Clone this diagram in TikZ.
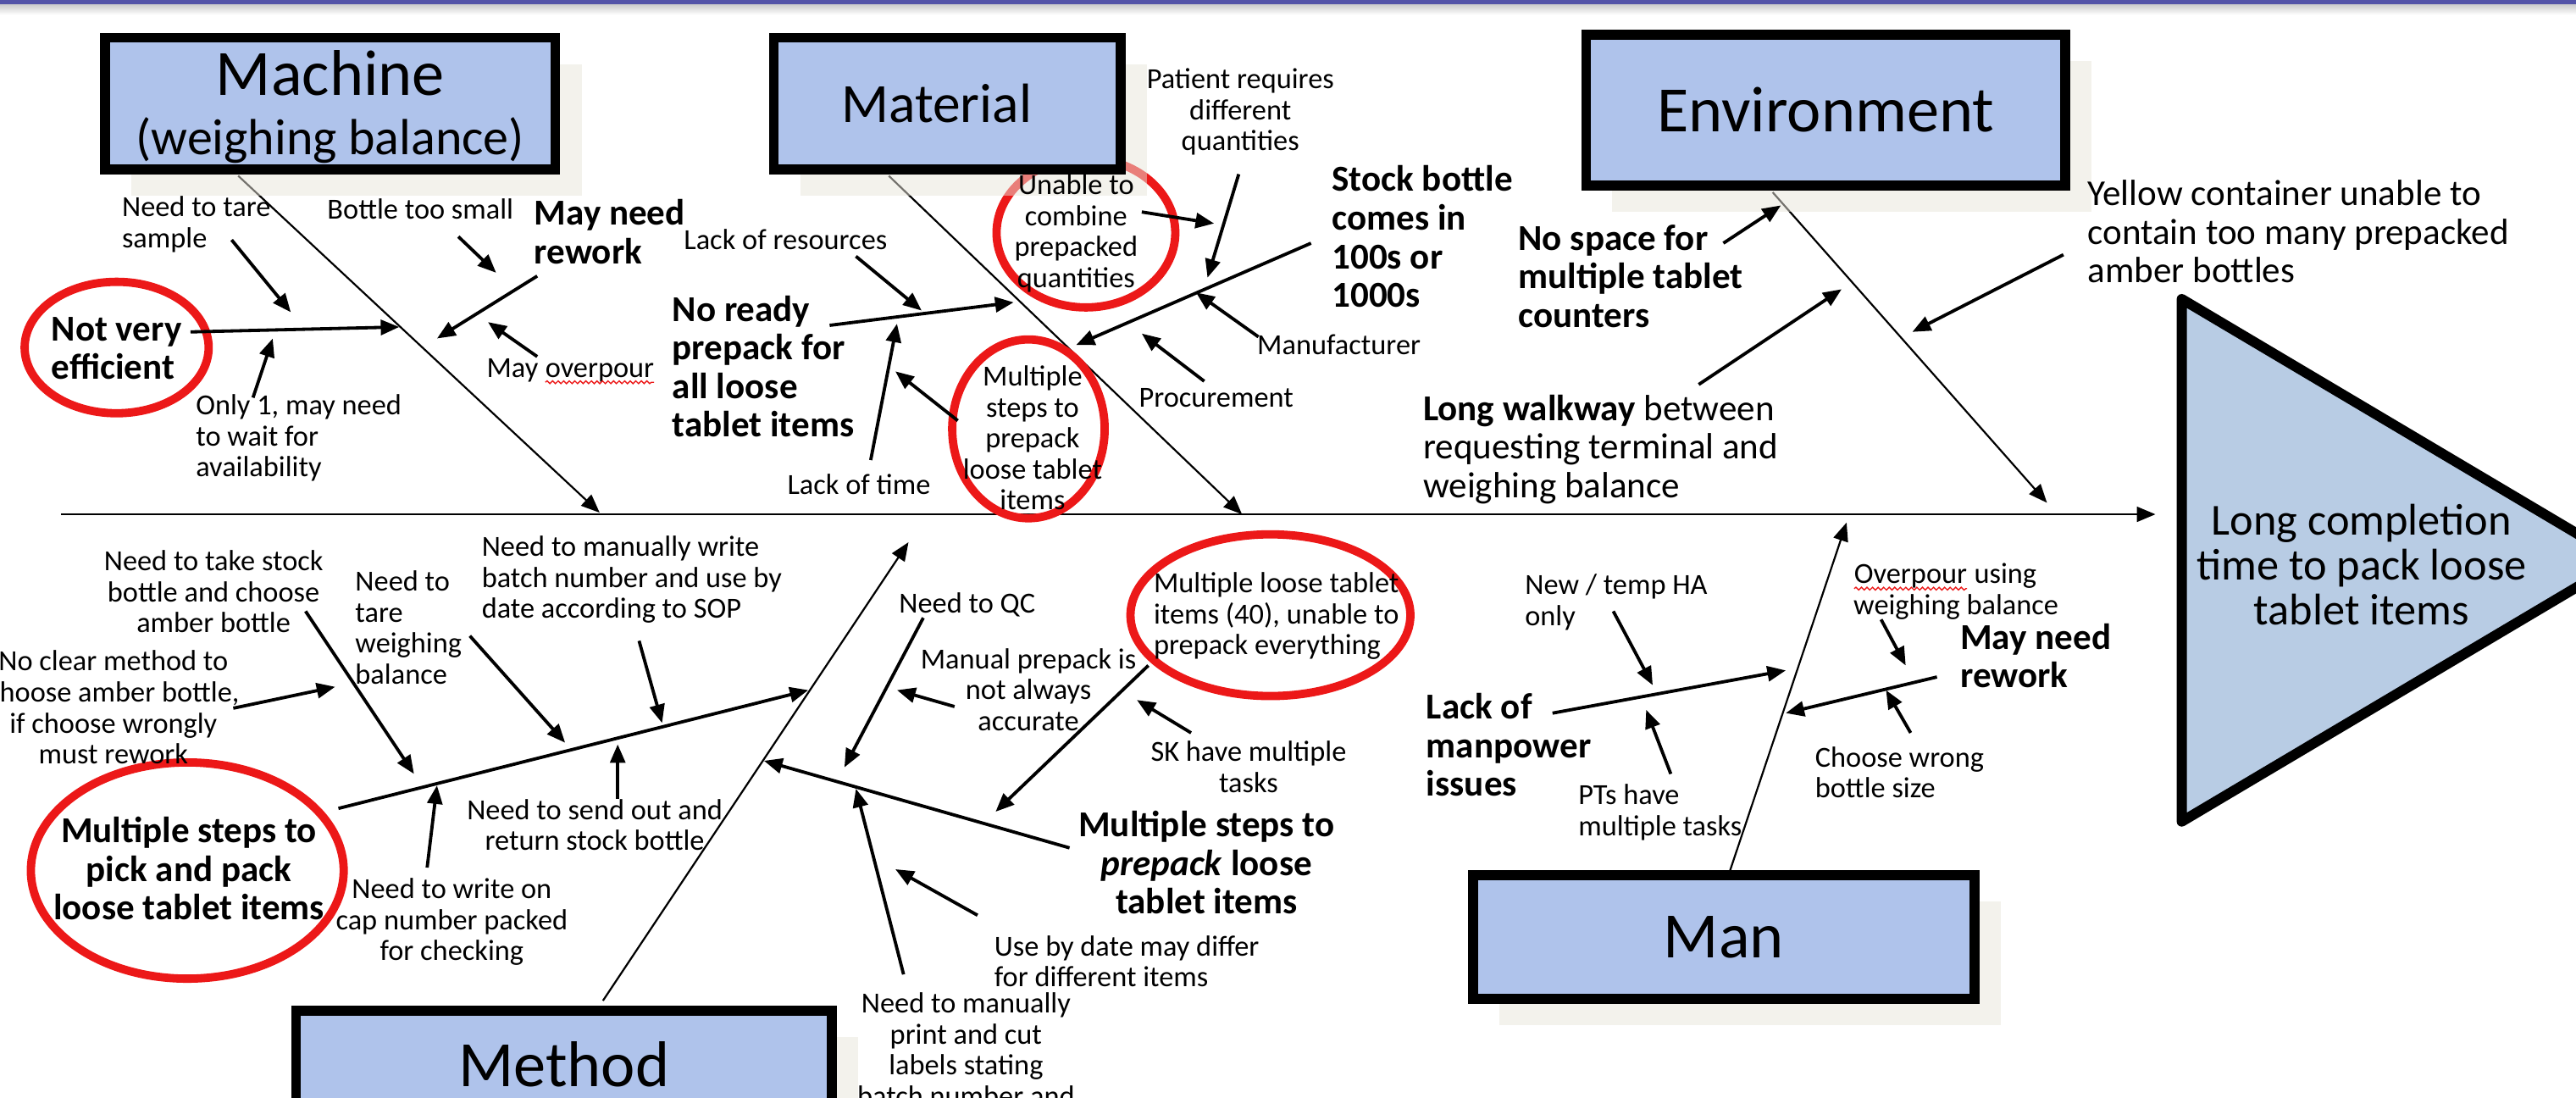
\documentclass[tikz,border=0pt]{standalone}
\usepackage{fontspec}
\setmainfont{Carlito}
\usetikzlibrary{arrows.meta,shadows,decorations.pathmorphing}

\definecolor{boxblue}{RGB}{175,195,235}
\definecolor{effectblue}{RGB}{184,204,228}
\definecolor{ringred}{RGB}{236,24,24}
\definecolor{shadowgray}{RGB}{232,229,218}
\definecolor{barblue}{RGB}{84,84,168}

% spell-check squiggle under a word
\newcommand{\squig}[1]{\tikz[baseline=(sq.base)]{\node[inner sep=0pt,outer sep=0pt] (sq) {#1};
  \draw[ringred, line width=0.5pt, decorate, decoration={snake,amplitude=0.6pt,segment length=2.4pt}]
    ([yshift=-2.2pt]sq.base west) -- ([yshift=-2.2pt]sq.base east);}}

\begin{document}
\begin{tikzpicture}[
            x=0.25mm, y=-0.25mm,
            catbox/.style={draw, line width=4.3pt, fill=boxblue, align=center, inner sep=0pt,
                drop shadow={shadow xshift=4mm, shadow yshift=-4mm, fill=shadowgray, opacity=0.5}},
            cause/.style={font=\fontsize{12.6}{13.4}\selectfont, inner sep=0pt, align=left},
            causec/.style={cause, align=center},
            boldcause/.style={font=\fontsize{15.8}{16.7}\selectfont\bfseries, inner sep=0pt, align=left},
            boldcausec/.style={boldcause, align=center},
            bigcause/.style={font=\fontsize{15.8}{16.7}\selectfont, inner sep=0pt, align=left},
            arr/.style={-{Triangle[length=8pt,width=6.5pt]}, line width=1.4pt},
            bone/.style={-{Triangle[length=8pt,width=6.5pt]}, line width=0.8pt},
            redring/.style={draw=ringred, line width=3.6pt}
        ]

        \useasboundingbox (0,0) rectangle (1568,668);
        \clip (0,0) rectangle (1568,668);

        % Slide bar
        \shade[top color=gray!45, bottom color=white] (0,2) rectangle (1568,9);
        \fill[barblue] (0,0) rectangle (1568,2.5);

        % Spine and main bones
        \path (37,313) coordinate (sp-l) (1312,313) coordinate (sp-r)
              (145,107) coordinate (mc-s) (365,312) coordinate (mc-t)
              (541,107) coordinate (mt-s) (756,313) coordinate (mt-t)
              (1079,117) coordinate (en-s) (1246,306) coordinate (en-t)
              (367,609) coordinate (me-s) (553,330) coordinate (me-t)
              (1053,530) coordinate (mn-s) (1124,318) coordinate (mn-t);
        \draw[bone] (sp-l) -- (sp-r);
        \draw[bone] (mc-s) -- (mc-t);
        \draw[bone] (mt-s) -- (mt-t);
        \draw[bone] (en-s) -- (en-t);
        \draw[bone] (me-s) -- (me-t);
        \draw[bone] (mn-s) -- (mn-t);

        % Highlight rings
        \draw[redring] (71,211.5) ellipse [x radius=14mm, y radius=10mm];
        \draw[redring] (661,141.7) ellipse [x radius=13.6mm, y radius=11.35mm];
        \draw[redring] (626,261) ellipse [x radius=11.6mm, y radius=13.6mm];
        \draw[redring] (114,529.8) ellipse [x radius=23.8mm, y radius=16.45mm];
        \draw[redring] (773.3,374.4) ellipse [x radius=21.3mm, y radius=12.3mm];

        % Category boxes
        \node[catbox, minimum width=68.5mm, minimum height=20mm, font=\fontsize{28}{25.7}\selectfont]
            (machine) at (201,63) {\raisebox{-1.2mm}[\height][\depth]{\begin{tabular}{@{}c@{}}Machine\\
            {\fontsize{22}{24}\selectfont (weighing balance)}\end{tabular}}};
        \node[catbox, minimum width=52.75mm, minimum height=20mm, font=\fontsize{24}{26}\selectfont]
            (material) at (576.5,63) {Material\hspace*{3.2mm}};
        \node[catbox, minimum width=72.9mm, minimum height=23mm, font=\fontsize{28}{30}\selectfont]
            (environment) at (1111.25,67) {Environment};
        \node[catbox, minimum width=76.3mm, minimum height=18.8mm, font=\fontsize{28}{30}\selectfont]
            (man) at (1049.2,570.4) {Man};
        \node[catbox, minimum width=81.5mm, minimum height=16.4mm, font=\fontsize{28}{30}\selectfont]
            (method) at (343.25,648) {Method};

        % Machine causes
        \node[boldcause, anchor=west] (t-eff) at (31,212) {Not very\\efficient};
        \node[cause, anchor=west] (t-tare) at (74,136.5) {Need to tare\\sample};
        \node[cause, anchor=west] (t-only) at (119,266.5) {Only 1, may need\\to wait for\\availability};
        \node[cause, anchor=west] (t-bottle) at (199,127) {Bottle too small};
        \node[boldcause, anchor=west] (t-rework1) at (325,141) {May need\\rework};
        \node[cause, anchor=west] (t-overpour) at (296,226) {May \squig{overpour}};
        \path (116,202) coordinate (ne-s) (243,199) coordinate (ne-t)
              (141,146) coordinate (tr-s) (177,190) coordinate (tr-t)
              (154,242) coordinate (on-s) (166,206) coordinate (on-t)
              (279,144) coordinate (bt-s) (302,166) coordinate (bt-t)
              (327,168) coordinate (rw-s) (266,206) coordinate (rw-t)
              (327,217) coordinate (op-s) (297,196) coordinate (op-t);
        \draw[arr] (ne-s) -- (ne-t);
        \draw[arr] (tr-s) -- (tr-t);
        \draw[arr] (on-s) -- (on-t);
        \draw[arr] (bt-s) -- (bt-t);
        \draw[arr] (rw-s) -- (rw-t);
        \draw[arr] (op-s) -- (op-t);

        % Material causes
        \node[cause, anchor=west] (t-res) at (416,146) {Lack of resources};
        \node[boldcause, anchor=west] (t-noready) at (409,223) {No ready\\prepack for\\all loose\\tablet items};
        \node[cause, anchor=west] (t-time) at (479,295) {Lack of time};
        \node[causec] (t-steps) at (628.5,266.5) {Multiple\\steps to\\prepack\\loose tablet\\items};
        \node[causec] (t-unable) at (655,142) {Unable to\\combine\\prepacked\\quantities};
        \node[causec] (t-patient) at (755,68) {Patient requires\\different\\quantities};
        \node[boldcause, anchor=west] (t-stock) at (810.5,144) {Stock bottle\\comes in\\100s or\\1000s};
        \node[cause, anchor=west] (t-manuf) at (765,210) {Manufacturer};
        \node[cause, anchor=west] (t-proc) at (693,242) {Procurement};
        \path (505,198) coordinate (nr-s) (617,184) coordinate (nr-t)
              (521,156) coordinate (rs-s) (561,189) coordinate (rs-t)
              (530,280) coordinate (tm-s) (546,197) coordinate (tm-t)
              (583,256) coordinate (st-s) (545,226) coordinate (st-t)
              (798,148) coordinate (sb-s) (655,210) coordinate (sb-t)
              (695,129) coordinate (un-s) (739,136) coordinate (un-t)
              (754,106) coordinate (pr-s) (735,169) coordinate (pr-t)
              (766,205) coordinate (mf-s) (728,178) coordinate (mf-t)
              (733,232) coordinate (pc-s) (695,203) coordinate (pc-t);
        \draw[arr] (nr-s) -- (nr-t);
        \draw[arr] (rs-s) -- (rs-t);
        \draw[arr] (tm-s) -- (tm-t);
        \draw[arr] (st-s) -- (st-t);
        \draw[arr] (sb-s) -- (sb-t);
        \draw[arr] (un-s) -- (un-t);
        \draw[arr] (pr-s) -- (pr-t);
        \draw[arr] (mf-s) -- (mf-t);
        \draw[arr] (pc-s) -- (pc-t);

        % Environment causes
        \node[boldcause, anchor=west] (t-nospace) at (924,168) {No space for\\multiple tablet\\counters};
        \node[bigcause, anchor=west] (t-walk) at (866,273.4) {\textbf{Long walkway} between\\requesting terminal and\\weighing balance};
        \node[bigcause, anchor=west] (t-yellow) at (1270.5,141) {Yellow container unable to\\contain too many prepacked\\amber bottles};
        \path (1049,148) coordinate (ns-s) (1084,125) coordinate (ns-t)
              (1034,234) coordinate (wk-s) (1121,176) coordinate (wk-t)
              (1256,155) coordinate (yc-s) (1164,202) coordinate (yc-t);
        \draw[arr] (ns-s) -- (ns-t);
        \draw[arr] (wk-s) -- (wk-t);
        \draw[arr] (yc-s) -- (yc-t);

        % Method causes (pick and pack)
        \node[boldcausec] (t-pick) at (115,528.6) {Multiple steps to\\pick and pack\\loose tablet items};
        \node[causec] (t-take) at (130,360) {Need to take stock\\bottle and choose\\amber bottle};
        \node[causec] (t-noclear) at (69,430.5) {No clear method to\\choose amber bottle,\\if choose wrongly\\must rework};
        \node[cause, anchor=west] (t-tarew) at (216,382) {Need to\\tare\\weighing\\balance};
        \node[cause, anchor=west] (t-write) at (293,352.7) {Need to manually write\\batch number and use by\\date according to SOP};
        \node[causec] (t-send) at (362,502) {Need to send out and\\return stock bottle};
        \node[causec] (t-cap) at (275,561) {Need to write on\\cap number packed\\for checking};
        \path (206,492) coordinate (pk-s) (492,420) coordinate (pk-t)
              (186,372) coordinate (tk-s) (252,471) coordinate (tk-t)
              (142,431) coordinate (nc-s) (204,418) coordinate (nc-t)
              (286,387) coordinate (tw-s) (344,452) coordinate (tw-t)
              (389,390) coordinate (wr-s) (403,440) coordinate (wr-t)
              (376,486) coordinate (sd-s) (376,453) coordinate (sd-t)
              (260,528) coordinate (cp-s) (266,478) coordinate (cp-t);
        \draw[arr] (pk-s) -- (pk-t);
        \draw[arr] (tk-s) -- (tk-t);
        \draw[arr] (nc-s) -- (nc-t);
        \draw[arr] (tw-s) -- (tw-t);
        \draw[arr] (wr-s) -- (wr-t);
        \draw[arr] (sd-s) -- (sd-t);
        \draw[arr] (cp-s) -- (cp-t);

        % Method causes (prepack)
        \node[boldcausec] (t-prep) at (734.4,525) {Multiple steps to\\\textit{prepack} loose\\tablet items};
        \node[cause, anchor=west] (t-qc) at (547,368) {Need to QC};
        \node[causec] (t-manual) at (626,419.6) {Manual prepack is\\not always\\accurate};
        \node[cause, anchor=west] (t-loose) at (702,375) {Multiple loose tablet\\items (40), unable to\\prepack everything};
        \node[causec] (t-sk) at (760,466.7) {SK have multiple\\tasks};
        \node[cause, anchor=west] (t-useby) at (605,585) {Use by date may differ\\for different items};
        \node[causec] (t-print) at (588,638.7) {Need to manually\\print and cut\\labels stating\\batch number and};
        \path (651,516) coordinate (pp-s) (465,463) coordinate (pp-t)
              (562,376) coordinate (qc-s) (514,467) coordinate (qc-t)
              (581,430) coordinate (ma-s) (546,420) coordinate (ma-t)
              (699,405) coordinate (lo-s) (606,494) coordinate (lo-t)
              (725,446) coordinate (sk-s) (692,426) coordinate (sk-t)
              (595,557) coordinate (ub-s) (545,529) coordinate (ub-t)
              (550,593) coordinate (pt-s) (521,480) coordinate (pt-t);
        \draw[arr] (pp-s) -- (pp-t);
        \draw[arr] (qc-s) -- (qc-t);
        \draw[arr] (ma-s) -- (ma-t);
        \draw[arr] (lo-s) -- (lo-t);
        \draw[arr] (sk-s) -- (sk-t);
        \draw[arr] (ub-s) -- (ub-t);
        \draw[arr] (pt-s) -- (pt-t);

        % Man causes
        \node[cause, anchor=west] (t-newha) at (928,366.5) {New / temp HA\\only};
        \node[boldcause, anchor=west] (t-lack) at (868,453.3) {Lack of\\manpower\\issues};
        \node[cause, anchor=west] (t-pts) at (960.5,494.5) {PTs have\\multiple tasks};
        \node[cause, anchor=west] (t-overp) at (1128,360) {\squig{Overpour} using\\weighing balance};
        \node[boldcause, anchor=west] (t-rework2) at (1193,399) {May need\\rework};
        \node[cause, anchor=west] (t-choose) at (1104.6,470) {Choose wrong\\bottle size};
        \path (945,434) coordinate (lk-s) (1087,408) coordinate (lk-t)
              (982,372) coordinate (nh-s) (1006,417) coordinate (nh-t)
              (1017,471) coordinate (ps-s) (1002,432) coordinate (ps-t)
              (1179,412) coordinate (rk-s) (1087,434) coordinate (rk-t)
              (1145,377) coordinate (ov-s) (1160,405) coordinate (ov-t)
              (1163,446) coordinate (cw-s) (1148,420) coordinate (cw-t);
        \draw[arr] (lk-s) -- (lk-t);
        \draw[arr] (nh-s) -- (nh-t);
        \draw[arr] (ps-s) -- (ps-t);
        \draw[arr] (rk-s) -- (rk-t);
        \draw[arr] (ov-s) -- (ov-t);
        \draw[arr] (cw-s) -- (cw-t);

        % Effect head
        \filldraw[fill=effectblue, line width=4.4pt, line join=round]
            (1328,182) -- (1596,341) -- (1328,500) -- cycle;
        \node[align=center, inner sep=0pt, font=\fontsize{19.2}{19.5}\selectfont]
            (effect) at (1437.5,343.8) {Long completion\\time to pack loose\\tablet items};

    \end{tikzpicture}
\end{document}
